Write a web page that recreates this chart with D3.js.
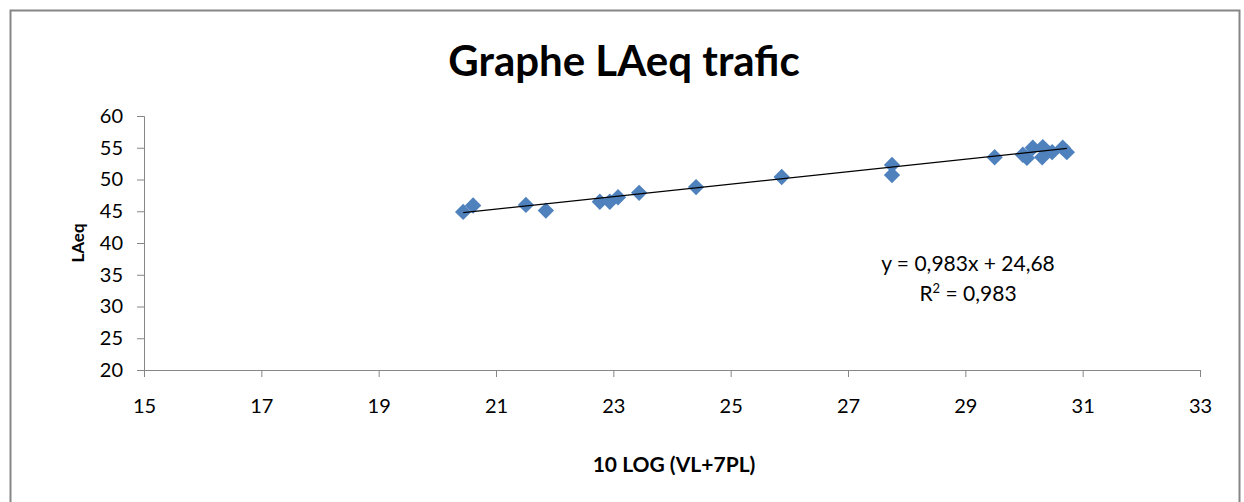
<!DOCTYPE html>
<html>
<head>
<meta charset="utf-8">
<script src="https://cdn.jsdelivr.net/npm/d3@7"></script>
<style>
  html, body { margin: 0; padding: 0; background: #fff; }
  svg { display: block; font-family: Lato, "Open Sans", sans-serif; }
</style>
</head>
<body>
<div id="chart"></div>
<script>
// values
var xValues = [20.44, 20.61, 21.51, 21.85, 22.77, 22.94, 23.08, 23.44, 24.41, 25.87, 27.75, 27.75,
  29.50, 29.98, 30.05, 30.15, 30.32, 30.31, 30.48, 30.66, 30.73];
var yValues = [44.9, 45.9, 46.0, 45.1, 46.5, 46.5, 47.2, 47.9, 48.8, 50.4, 52.3, 50.7,
  53.5, 53.9, 53.4, 55.0, 55.1, 53.5, 54.3, 55.0, 54.3];
var xTicks = [15, 17, 19, 21, 23, 25, 27, 29, 31, 33];
var yTicks = [20, 25, 30, 35, 40, 45, 50, 55, 60];
var slope = 0.983, intercept = 24.68;

var W = 1244, H = 502;
var margin = { left: 144, right: 44, top: 116, bottom: 132 };

var svg = d3.select('#chart').append('svg').attr('width', W).attr('height', H);

// outer frame
svg.append('rect').attr('x', 10.5).attr('y', 10.5).attr('width', 1229).attr('height', 500)
  .attr('fill', 'none').attr('stroke', '#868686').attr('stroke-width', 2);

var x = d3.scaleLinear().domain([15, 33]).range([margin.left, W - margin.right]);
var y = d3.scaleLinear().domain([20, 60]).range([H - margin.bottom, margin.top]);

var axisColor = '#868686';

var gx = svg.append('g').attr('transform', 'translate(0,' + y(20) + ')')
  .call(d3.axisBottom(x).tickValues(xTicks).tickSize(7).tickPadding(22));
var gy = svg.append('g').attr('transform', 'translate(' + x(15) + ',0)')
  .call(d3.axisLeft(y).tickValues(yTicks).tickSize(7).tickPadding(14));

[gx, gy].forEach(function (g) {
  g.select('.domain').attr('stroke', axisColor);
  g.selectAll('.tick line').attr('stroke', axisColor);
  g.selectAll('.tick text').attr('fill', '#000').attr('font-size', 20)
    .style('font-family', 'Lato, "Open Sans", sans-serif');
});

var xMin = d3.min(xValues), xMax = d3.max(xValues);

// diamonds
var pts = xValues.map(function (v, i) { return [v, yValues[i]]; });
svg.append('g').selectAll('path').data(pts).enter().append('path')
  .attr('d', d3.symbol().type(d3.symbolDiamond2).size(170))
  .attr('transform', function (d) { return 'translate(' + x(d[0]) + ',' + y(d[1]) + ')'; })
  .attr('fill', '#4F81BD');

// linear trendline over the data range
svg.append('line')
  .attr('x1', x(xMin)).attr('y1', y(slope * xMin + intercept))
  .attr('x2', x(xMax)).attr('y2', y(slope * xMax + intercept))
  .attr('stroke', '#000').attr('stroke-width', 1.3);

// title
svg.append('text').attr('x', 624).attr('y', 76).attr('text-anchor', 'middle')
  .attr('font-size', 42).attr('font-weight', 'bold').text('Graphe LAeq trafic');

// axis titles
svg.append('text').attr('x', 674).attr('y', 472).attr('text-anchor', 'middle')
  .attr('font-size', 21).attr('font-weight', 'bold').text('10 LOG (VL+7PL)');
svg.append('text').attr('transform', 'translate(84,243) rotate(-90)').attr('text-anchor', 'middle')
  .attr('font-size', 17).attr('font-weight', 'bold').text('LAeq');

// equation
var eq = svg.append('g').attr('font-size', 21).attr('text-anchor', 'middle');
eq.append('text').attr('x', 968).attr('y', 271).text('y = 0,983x + 24,68');
var r2 = eq.append('text').attr('x', 968).attr('y', 301);
r2.append('tspan').text('R');
r2.append('tspan').attr('font-size', 13).attr('dy', -8).text('2');
r2.append('tspan').attr('dy', 8).text(' = 0,983');
</script>
</body>
</html>
